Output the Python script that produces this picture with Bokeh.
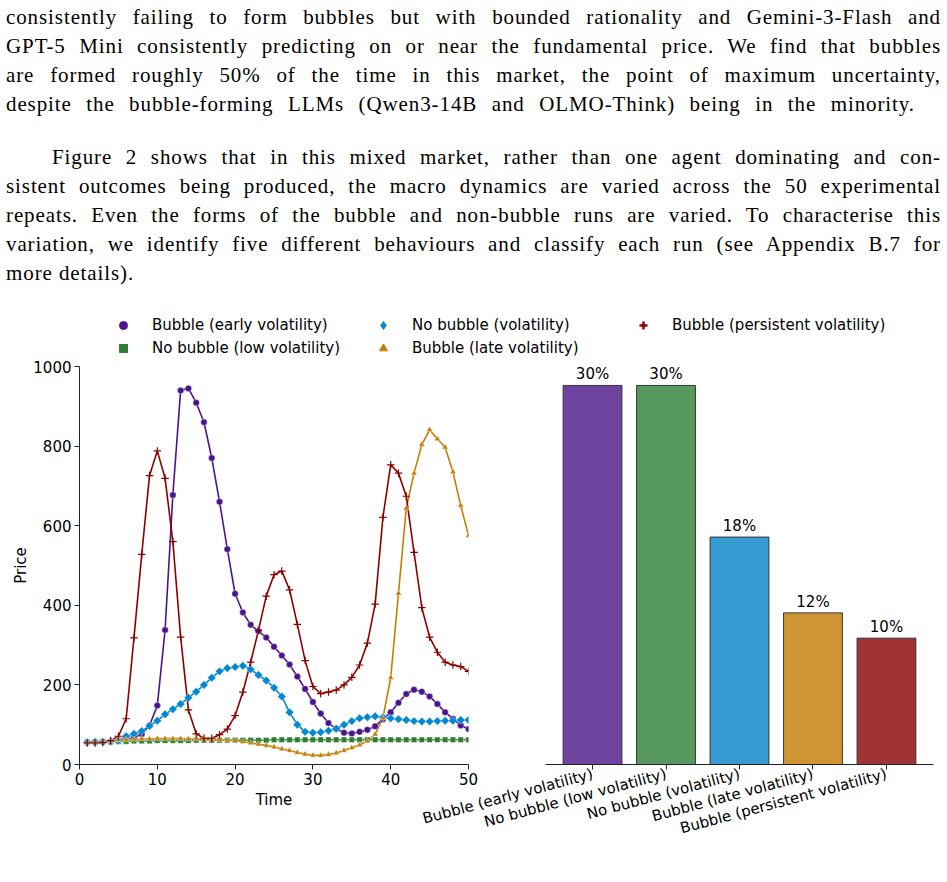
import math
from bokeh.plotting import figure
from bokeh.models import (ColumnDataSource, Legend, LegendItem, Div, FactorRange, Range1d)
from bokeh.layouts import column, row
from bokeh.embed import file_html
from bokeh.resources import INLINE

FONT = "DejaVu Sans"

# ---------------- data ----------------
time = list(range(1, 51))

categories = [
    "Bubble (early volatility)",
    "No bubble (low volatility)",
    "No bubble (volatility)",
    "Bubble (late volatility)",
    "Bubble (persistent volatility)",
]

early_volatility = [55, 56, 57, 58, 60, 63, 68, 76, 98, 148,
                    338, 677, 940, 945, 909, 860, 770, 660, 541, 429,
                    382, 351, 335, 319, 296, 274, 251, 221, 190, 157,
                    128, 104, 90, 80, 78, 82, 87, 96, 114, 131,
                    155, 177, 188, 183, 171, 152, 131, 115, 98, 89]

low_volatility = [55, 56, 57, 57, 58, 58, 59, 59, 59, 60,
                  60, 60, 60, 60, 61, 61, 61, 61, 61, 61,
                  61, 61, 61, 61, 62, 62, 62, 62, 62, 62,
                  62, 62, 62, 62, 62, 62, 62, 62, 62, 62,
                  62, 62, 62, 62, 62, 62, 62, 62, 62, 62]

no_bubble_volatility = [56, 57, 57, 58, 60, 71, 77, 84, 97, 110,
                        126, 139, 152, 168, 183, 200, 218, 234, 242, 245,
                        248, 239, 225, 211, 193, 171, 131, 100, 82, 80,
                        81, 85, 90, 100, 109, 116, 119, 121, 119, 116,
                        114, 112, 109, 108, 108, 109, 110, 110, 112, 112]

late_volatility = [55, 57, 58, 59, 61, 62, 63, 64, 64, 65,
                   65, 65, 65, 64, 64, 63, 63, 62, 61, 60,
                   57, 54, 51, 48, 44, 39, 35, 30, 26, 23,
                   23, 25, 29, 35, 42, 49, 59, 76, 117, 218,
                   430, 644, 732, 804, 841, 818, 797, 735, 651, 575]

persistent_volatility = [54, 54, 55, 60, 71, 115, 318, 528, 726, 788,
                         719, 560, 320, 137, 77, 66, 66, 75, 89, 123,
                         182, 257, 337, 423, 477, 486, 439, 352, 261, 196,
                         178, 182, 187, 200, 219, 250, 305, 403, 621, 753,
                         732, 674, 533, 394, 320, 282, 257, 250, 246, 234]

share_percent = [30, 30, 18, 12, 10]

y_ticks = [0, 200, 400, 600, 800, 1000]
x_ticks = [0, 10, 20, 30, 40, 50]

line_colors = ["#4a148c", "#2e7d32", "#0288d1", "#c77c02", "#8b0000"]
bar_colors = ["#6f44a0", "#57985c", "#359bd0", "#cf9534", "#a23335"]

series = [early_volatility, low_volatility, no_bubble_volatility,
          late_volatility, persistent_volatility]
keys = ["early", "low", "vol", "late", "pers"]

# ---------------- text block ----------------
lines_p1 = [
    "consistently failing to form bubbles but with bounded rationality and Gemini-3-Flash and",
    "GPT-5 Mini consistently predicting on or near the fundamental price. We find that bubbles",
    "are formed roughly 50% of the time in this market, the point of maximum uncertainty,",
    "despite the bubble-forming LLMs (Qwen3-14B and OLMO-Think) being in the minority.",
]
lines_p2 = [
    "Figure 2 shows that in this mixed market, rather than one agent dominating and con-",
    "sistent outcomes being produced, the macro dynamics are varied across the 50 experimental",
    "repeats. Even the forms of the bubble and non-bubble runs are varied. To characterise this",
    "variation, we identify five different behaviours and classify each run (see Appendix B.7 for",
    "more details).",
]

J = "text-align:justify;text-align-last:justify;"
html = ["<div style=\"font-family:'Liberation Serif',serif;font-size:21px;line-height:29px;"
        "color:#000;width:935px;margin:0 0 0 6px;padding-top:3px;letter-spacing:0.9px;\">"]
for i, ln in enumerate(lines_p1):
    w = "909px" if i == len(lines_p1) - 1 else "935px"
    html.append(f"<div style=\"{J}width:{w};\">{ln}</div>")
html.append("<div style=\"height:24px\"></div>")
for i, ln in enumerate(lines_p2):
    if i == 0:
        html.append(f"<div style=\"{J}padding-left:46px;\">{ln}</div>")
    elif i == len(lines_p2) - 1:
        html.append(f"<div style=\"text-align:left;\">{ln}</div>")
    else:
        html.append(f"<div style=\"{J}\">{ln}</div>")
html.append("</div>")
div = Div(text="".join(html), width=947, height=300, margin=(0, 0, 0, 0))

# ---------------- legend figure ----------------
pl = figure(width=947, height=58, output_backend="svg", toolbar_location=None,
            x_range=Range1d(0, 1), y_range=Range1d(0, 1),
            x_axis_location=None, y_axis_location=None, min_border=0)
pl.grid.visible = False
pl.outline_line_color = None
# a single point placed outside the visible range, so only the legend shows the glyph
offscreen = ColumnDataSource(dict(x=[5], y=[5]))
legend_markers = ["circle", "square", "diamond", "triangle", "cross"]
legend_sizes = [9, 8, 12, 7, 10]
items = []
for name, col, mk, sz in zip(categories, line_colors, legend_markers, legend_sizes):
    if mk == "cross":
        r = pl.scatter("x", "y", source=offscreen, marker=mk, size=sz, line_color=col,
                       line_width=2.5)
    else:
        r = pl.scatter("x", "y", source=offscreen, marker=mk, size=sz, fill_color=col,
                       line_color=col)
    items.append(LegendItem(label=name, renderers=[r]))
legend = Legend(items=items, orientation="vertical", ncols=3, location=(113, 0),
                border_line_color=None, background_fill_alpha=0, padding=0, margin=0,
                spacing=3, label_standoff=19, glyph_width=20, glyph_height=20,
                label_height=20, label_width=218, label_text_font=FONT,
                label_text_font_size="15px", label_text_color="#000000")
pl.add_layout(legend)

# ---------------- line chart ----------------
p1 = figure(width=490, height=524, x_range=Range1d(0, 50), y_range=Range1d(0, 1000),
            output_backend="svg", toolbar_location=None,
            min_border_left=79, min_border_right=22, min_border_top=8, min_border_bottom=118)
p1.outline_line_color = None
p1.grid.visible = False
p1.xaxis.axis_label = "Time"
p1.yaxis.axis_label = "Price"
p1.xaxis.ticker = x_ticks
p1.yaxis.ticker = y_ticks
for ax in (p1.xaxis[0], p1.yaxis[0]):
    ax.axis_line_color = "#222222"
    ax.major_tick_line_color = "#222222"
    ax.minor_tick_line_color = None
    ax.major_tick_out = 5
    ax.major_tick_in = 0
    ax.major_label_standoff = 3
    ax.major_label_text_font = FONT
    ax.major_label_text_font_size = "15px"
    ax.major_label_text_color = "#000000"
    ax.axis_label_text_font = FONT
    ax.axis_label_text_font_size = "15px"
    ax.axis_label_text_font_style = "normal"
    ax.axis_label_text_color = "#000000"
    ax.axis_label_standoff = 3
p1.yaxis[0].axis_label_standoff = 0

src = ColumnDataSource(dict(t=time, **{k: s for k, s in zip(keys, series)}))
for k, col in zip(keys, line_colors):
    p1.line("t", k, source=src, line_color=col, line_width=1.6)

p1.scatter("t", "early", source=src, marker="circle", size=6.5, fill_color=line_colors[0],
           line_color="white", line_width=0.4)
p1.scatter("t", "low", source=src, marker="square", size=5.5, fill_color=line_colors[1],
           line_color="white", line_width=0.4)
p1.scatter("t", "vol", source=src, marker="square", angle=math.pi / 4, size=6,
           fill_color=line_colors[2], line_color="white", line_width=0.4)
p1.scatter("t", "late", source=src, marker="triangle", size=6, fill_color=line_colors[3],
           line_color="white", line_width=0.4)
p1.scatter("t", "pers", source=src, marker="cross", size=7.5, line_color=line_colors[4],
           line_width=1.2)

# ---------------- bar chart ----------------
bar_src = ColumnDataSource(dict(cat=categories, pct=share_percent, color=bar_colors,
                                label=[f"{v}%" for v in share_percent]))
p2 = figure(width=537, height=524,
            x_range=FactorRange(factors=categories, range_padding=0.14,
                                range_padding_units="absolute"),
            y_range=Range1d(0, 31.5), output_backend="svg", toolbar_location=None,
            y_axis_location=None,
            min_border_left=135, min_border_right=14, min_border_top=8, min_border_bottom=118,
            margin=(0, 0, 0, -80))
p2.border_fill_color = None
p2.background_fill_color = None
p2.outline_line_color = None
p2.grid.visible = False
p2.vbar(x="cat", top="pct", width=0.8, source=bar_src, fill_color="color",
        fill_alpha=1.0, line_color="#333333", line_width=1)
p2.text(x="cat", y="pct", text="label", source=bar_src, text_align="center",
        text_baseline="bottom", y_offset=-2, text_font_size="15px",
        text_font={"value": FONT}, text_color="#000000")
ax = p2.xaxis[0]
ax.axis_line_color = "#222222"
ax.major_tick_line_color = "#222222"
ax.major_tick_out = 5
ax.major_tick_in = 0
ax.major_label_standoff = 4
ax.major_label_orientation = math.radians(15)
ax.major_label_text_font = FONT
ax.major_label_text_font_size = "15px"
ax.major_label_text_color = "#000000"

layout = column(div, pl, row(p1, p2))
open("out.html", "w").write(file_html(layout, INLINE))
